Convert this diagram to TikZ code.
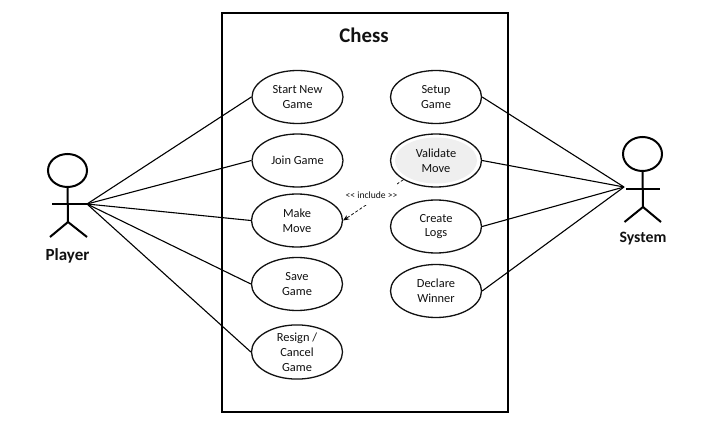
\documentclass[tikz,border=0pt]{standalone}
\usepackage{fontspec}
\setmainfont{Carlito}
\usetikzlibrary{shapes.geometric,arrows.meta}
\definecolor{softgray}{HTML}{EFEFEF}
\definecolor{inkblack}{HTML}{111111}
\tikzset{
  usecase/.style={draw=inkblack,line width=1.3pt,ellipse,fill=white,minimum width=91pt,minimum height=53pt,inner sep=0pt,align=center,text=inkblack,font=\fontsize{12.4}{14.8}\selectfont},
  shaded case/.style={usecase,path picture={\fill[softgray] (path picture bounding box.center) ellipse (41pt and 23pt);}},
  link/.style={draw=black,line width=1.1pt},
  stick/.style={draw=black,line width=2pt},
  actorname/.style={text=inkblack,inner sep=0pt},
  includearrow/.style={draw=black,line width=.7pt,dash pattern=on 3pt off 2pt,-{Stealth[length=6pt,width=5pt]}},
  includetag/.style={font=\fontsize{9.6}{10}\selectfont,fill=white,inner xsep=0pt,inner ysep=0pt,text height=15.5pt,text depth=6.5pt,text=inkblack},
}
\begin{document}
\begin{tikzpicture}[x=1pt,y=-1pt]
\useasboundingbox (0,0) rectangle (715,433);
\fill[white] (0,0) rectangle (715,433);
\node[draw=black,line width=1.8pt,minimum width=286pt,minimum height=399pt,inner sep=0pt] (frame) at (365,212.5) {};
\node[font=\fontsize{20.8}{24}\selectfont\bfseries,text=inkblack,inner sep=0pt] (title) at (364,35) {Chess};
% use cases
\node[usecase] (start) at (297.5,97) {Start New\\Game};
\node[usecase] (join) at (297.5,160.5) {Join Game};
\node[usecase] (make) at (297,220.5) {Make\\Move};
\node[usecase] (save) at (297,284) {Save\\Game};
\node[usecase] (resign) at (297,352) {Resign /\\Cancel\\Game};
\node[usecase] (setup) at (436,97) {Setup\\Game};
\node[shaded case] (validate) at (436,160.5) {Validate\\Move};
\node[usecase] (create) at (436,226.5) {Create\\Logs};
\node[usecase] (declare) at (436,291) {Declare\\Winner};
% player
\node[draw=black,line width=2pt,ellipse,minimum width=39pt,minimum height=33pt,inner sep=0pt] (phead) at (67.5,170.5) {};
\coordinate (pbody) at (68,222);
\coordinate (parml) at (52,204);
\coordinate (parmr) at (87,204);
\coordinate (plegl) at (50,237);
\coordinate (plegr) at (87,237);
\draw[stick] (phead.south) -- (pbody);
\draw[stick] (parml) -- (parmr);
\draw[stick] (plegl) -- (pbody) -- (plegr);
\node[actorname,font=\fontsize{17}{20}\selectfont\bfseries] (player) at (67.5,256) {Player};
% system
\node[draw=black,line width=2pt,ellipse,minimum width=39pt,minimum height=34pt,inner sep=0pt] (shead) at (642.5,154) {};
\coordinate (sbody) at (643,207);
\coordinate (sarml) at (626,189);
\coordinate (sarmr) at (660,189);
\coordinate (slegl) at (624.5,222);
\coordinate (slegr) at (661,222);
\draw[stick] (shead.south) -- (sbody);
\draw[stick] (sarml) -- (sarmr);
\draw[stick] (slegl) -- (sbody) -- (slegr);
\node[actorname,font=\fontsize{15.8}{19}\selectfont\bfseries] (system) at (643,239) {System};
% connectors
\coordinate (phand) at (87,204);
\coordinate (shand) at (624,187);
\foreach \u in {start,join,make,save,resign} \draw[link] (phand) -- (\u.west);
\foreach \u in {setup,validate,create,declare} \draw[link] (shand) -- (\u.east);
\draw[includearrow] (validate.south west) -- (make.east);
\node[includetag] (inc) at (371.5,194) {<{}< include >{}>};
\end{tikzpicture}
\end{document}
